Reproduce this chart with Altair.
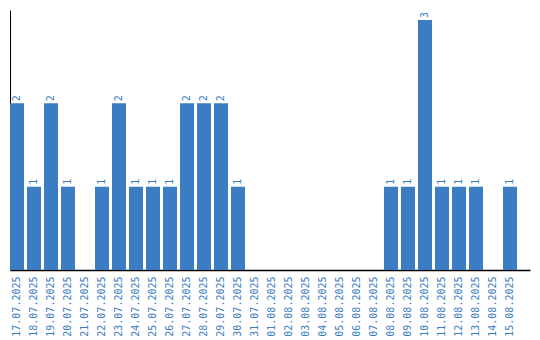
import altair as alt
import pandas as pd

dates = ["17.07.2025", "18.07.2025", "19.07.2025", "20.07.2025", "21.07.2025",
         "22.07.2025", "23.07.2025", "24.07.2025", "25.07.2025", "26.07.2025",
         "27.07.2025", "28.07.2025", "29.07.2025", "30.07.2025", "31.07.2025",
         "01.08.2025", "02.08.2025", "03.08.2025", "04.08.2025", "05.08.2025",
         "06.08.2025", "07.08.2025", "08.08.2025", "09.08.2025", "10.08.2025",
         "11.08.2025", "12.08.2025", "13.08.2025", "14.08.2025", "15.08.2025"]
counts = [2, 1, 2, 1, 0, 1, 2, 1, 1, 1, 2, 2, 2, 1, 0,
          0, 0, 0, 0, 0, 0, 0, 1, 1, 3, 1, 1, 1, 0, 1]

df = pd.DataFrame({"date": dates, "count": counts})
df["label"] = df["count"].apply(lambda v: str(v) if v > 0 else "")

COLOR = "#3b7dc3"
FONT = "DejaVu Sans Mono"

x = alt.X("date:N", sort=None, title=None,
          scale=alt.Scale(paddingInner=0.176, paddingOuter=0.382, align=0),
          axis=alt.Axis(labelAngle=-90, ticks=False, domainColor="black",
                        domainWidth=1.5, domainOpacity=1, labelColor=COLOR,
                        labelFont=FONT, labelFontSize=10, labelPadding=6,
                        labelOverlap=False, labelBound=False))
y = alt.Y("count:Q", title=None, scale=alt.Scale(domain=[0, 3.12], nice=False),
          axis=alt.Axis(labels=False, ticks=False, grid=False, domainColor="black",
                        domainWidth=1))

base = alt.Chart(df)
bars = base.mark_bar(color=COLOR).encode(x=x, y=y)
text = base.mark_text(angle=270, align="left", baseline="middle", dx=2,
                      color=COLOR, font=FONT, fontSize=10).encode(
    x=x, y=y, text="label:N")

chart = (bars + text).properties(
    width=520, height=260,
    padding={"left": 10, "top": 10, "right": 10, "bottom": 70},
    autosize=alt.AutoSizeParams(type="none"),
    view=alt.ViewConfig(stroke="transparent", strokeWidth=0),
).configure_view(stroke="transparent", strokeWidth=0).configure(background="white")

chart.save("out.html", embed_options={"renderer": "svg", "actions": False})
